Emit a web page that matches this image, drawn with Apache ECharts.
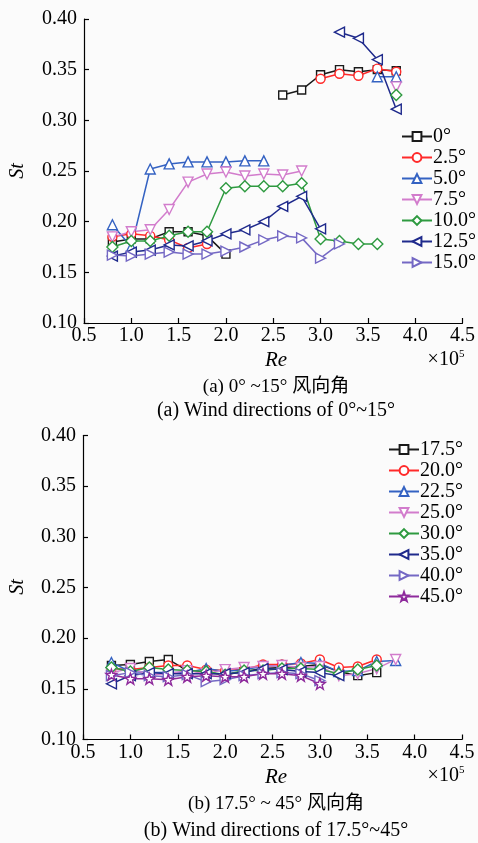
<!DOCTYPE html>
<html><head><meta charset="utf-8">
<script src="https://cdn.jsdelivr.net/npm/echarts@6/dist/echarts.min.js"></script>
<style>html,body{margin:0;padding:0;background:#fbfbfb}#c{width:478px;height:843px}</style>
</head><body><div id="c"></div>
<script>
// Reynolds number (x10^5)
const Re = [0.8,1.0,1.2,1.4,1.6,1.8,2.0,2.2,2.4,2.6,2.8,3.0,3.2,3.4,3.6,3.8];
const xTicks = [0.5,1.0,1.5,2.0,2.5,3.0,3.5,4.0,4.5];
const yTicks = [0.10,0.15,0.20,0.25,0.30,0.35,0.40];

// (a) 0°~15°
const namesA = ['0°','2.5°','5.0°','7.5°','10.0°','12.5°','15.0°'];
const st0    = [0.180,0.183,0.183,0.190,0.190,0.186,0.168,null,null,0.325,0.330,0.345,0.350,0.348,0.350,0.349];
const st2_5  = [0.185,0.188,0.186,0.182,0.174,0.178,null,null,null,null,null,0.341,0.346,0.344,0.351,0.348];
const st5    = [0.197,0.175,0.252,0.257,0.259,0.259,0.259,0.260,0.260,null,null,null,null,null,0.343,0.343];
const st7_5  = [0.185,0.190,0.192,0.212,0.239,0.247,0.249,0.245,0.247,0.246,0.250,null,null,null,null,0.333];
const st10   = [0.175,0.181,0.181,0.186,0.190,0.190,0.233,0.235,0.235,0.235,0.238,0.183,0.181,0.178,0.178,null];
const st10b  = [null,null,null,null,null,null,null,null,null,null,null,null,null,null,null,0.325];
const st12_5 = [0.166,0.170,0.172,0.177,0.176,0.181,0.188,0.192,0.200,0.215,0.225,0.193,null,null,null,null];
const st12_5b= [null,null,null,null,null,null,null,null,null,null,null,null,0.387,0.381,0.360,0.311];
const st15   = [0.167,0.166,0.168,0.170,0.168,0.168,0.171,0.175,0.182,0.186,0.184,0.164,0.178,null,null,null];

// (b) 17.5°~45°
const namesB = ['17.5°','20.0°','22.5°','25.0°','30.0°','35.0°','40.0°','45.0°'];
const st17_5 = [0.173,0.174,0.177,0.179,0.168,0.166,0.164,0.167,0.170,0.171,0.172,0.174,0.167,0.163,0.166,null];
const st20   = [0.170,0.169,0.171,0.173,0.173,0.169,0.168,0.169,0.174,0.174,0.175,0.179,0.171,0.172,0.179,null];
const st22_5 = [0.176,0.167,0.166,0.166,0.166,0.170,0.167,0.169,0.172,0.173,0.176,0.175,0.167,0.168,0.177,0.178];
const st25   = [0.166,0.170,0.164,0.165,0.168,0.165,0.169,0.171,0.172,0.173,0.171,0.172,0.163,0.165,0.170,0.179];
const st30   = [0.171,0.167,0.171,0.169,0.168,0.167,0.164,0.168,0.168,0.170,0.170,0.169,0.165,0.169,0.173,null];
const st35   = [0.155,0.163,0.166,0.165,0.165,0.165,0.165,0.166,0.170,0.169,0.167,0.166,0.163,null,null,null];
const st40   = [0.163,0.166,0.163,0.162,0.164,0.157,0.159,0.163,0.165,0.166,0.165,0.158,null,null,null,null];
const st45   = [0.164,0.160,0.160,0.159,0.162,0.163,0.162,0.162,0.165,0.165,0.163,0.155,null,null,null,null];

const SERIF = '"Liberation Serif","DejaVu Serif",serif';
const STAR = 'path://M0,-10L2.35,-3.24L9.51,-3.09L3.8,1.24L5.88,8.09L0,4L-5.88,8.09L-3.8,1.24L-9.51,-3.09L-2.35,-3.24Z';
const styles = {
  rect:  {symbol:'rect', size:8, rot:0},
  circ:  {symbol:'circle', size:9, rot:0},
  up:    {symbol:'triangle', size:10, rot:0},
  down:  {symbol:'triangle', size:10, rot:180},
  dia:   {symbol:'diamond', size:11, rot:0},
  left:  {symbol:'triangle', size:10, rot:90},
  right: {symbol:'triangle', size:10, rot:-90},
  star:  {symbol:STAR, size:11, rot:0}
};
function mk(name, arr, color, st, idx){
  const s = styles[st];
  return {
    type:'line', name:name, xAxisIndex:idx, yAxisIndex:idx,
    data: Re.map((x,i)=>[x, arr[i]==null?'-':arr[i]]),
    symbol:s.symbol, symbolSize:s.size, symbolRotate:s.rot, showAllSymbol:true,
    lineStyle:{color:color, width:1.5},
    itemStyle:{color:'#ffffff', borderColor:color, borderWidth:1.4},
    emphasis:{disabled:true}, animation:false, connectNulls:false
  };
}
const C = {k:'#1a1a1a', r:'#ff2a2a', b:'#3462c2', p:'#d27ccc', g:'#2e9a40', n:'#1f2a8c', l:'#7468c4', m:'#8e2a9c'};

const series = [
  mk('0°', st0, C.k, 'rect', 0),
  mk('2.5°', st2_5, C.r, 'circ', 0),
  mk('5.0°', st5, C.b, 'up', 0),
  mk('7.5°', st7_5, C.p, 'down', 0),
  mk('10.0°', st10, C.g, 'dia', 0),
  mk('10.0°', st10b, C.g, 'dia', 0),
  mk('12.5°', st12_5, C.n, 'left', 0),
  mk('12.5°', st12_5b, C.n, 'left', 0),
  mk('15.0°', st15, C.l, 'right', 0),
  mk('17.5°', st17_5, C.k, 'rect', 1),
  mk('20.0°', st20, C.r, 'circ', 1),
  mk('22.5°', st22_5, C.b, 'up', 1),
  mk('25.0°', st25, C.p, 'down', 1),
  mk('30.0°', st30, C.g, 'dia', 1),
  mk('35.0°', st35, C.n, 'left', 1),
  mk('40.0°', st40, C.l, 'right', 1),
  mk('45.0°', st45, C.m, 'star', 1)
];

function xAx(idx){
  return {type:'value', gridIndex:idx, min:xTicks[0], max:xTicks[xTicks.length-1], interval:0.5,
    axisLine:{show:true, onZero:false, lineStyle:{color:'#000', width:1.2}},
    axisTick:{show:true, inside:true, length:5, lineStyle:{color:'#000', width:1.2}},
    axisLabel:{color:'#000', fontFamily:SERIF, fontSize:20, margin:3, formatter:v=>v.toFixed(1)},
    splitLine:{show:false}};
}
function yAx(idx){
  return {type:'value', gridIndex:idx, min:yTicks[0], max:yTicks[yTicks.length-1], interval:0.05,
    axisLine:{show:true, onZero:false, lineStyle:{color:'#000', width:1.2}},
    axisTick:{show:true, inside:true, length:5, lineStyle:{color:'#000', width:1.2}},
    axisLabel:{color:'#000', fontFamily:SERIF, fontSize:20, margin:7, formatter:v=>v.toFixed(2)},
    splitLine:{show:false}};
}
function lg(names, left, top){
  return {data:names, left:left, top:top, orient:'vertical', itemGap:0, itemWidth:30, itemHeight:11,
    selectedMode:false,
    textStyle:{color:'#000', fontFamily:SERIF, fontSize:20, lineHeight:21, padding:[0,0,0,-4]}};
}
function txt(x,y,t,opts){
  return {type:'text', x:x, y:y, style:Object.assign({text:t, fill:'#000', font:'20px '+SERIF, align:'center', verticalAlign:'middle'}, opts||{})};
}
const sup = {s:{fontSize:11, verticalAlign:'top', padding:[0,0,11,0], fontFamily:SERIF}};
const graphic = [
  {type:'text', x:18, y:171, rotation:Math.PI/2, style:{text:'St', fill:'#000', font:'italic 20px '+SERIF, align:'center', verticalAlign:'middle'}},
  {type:'text', x:18, y:587, rotation:Math.PI/2, style:{text:'St', fill:'#000', font:'italic 20px '+SERIF, align:'center', verticalAlign:'middle'}},
  txt(276, 360, 'Re', {font:'italic 21px '+SERIF}),
  txt(276, 777, 'Re', {font:'italic 21px '+SERIF}),
  {type:'text', x:446, y:360, style:{text:'×10{s|5}', rich:sup, fill:'#000', font:'20px '+SERIF, align:'center', verticalAlign:'middle'}},
  {type:'text', x:446, y:776, style:{text:'×10{s|5}', rich:sup, fill:'#000', font:'20px '+SERIF, align:'center', verticalAlign:'middle'}},
  txt(276, 387, '(a) 0° ~15° 风向角', {font:'19px '+SERIF+',"Noto Sans CJK SC"'}),
  txt(276, 411, '(a) Wind directions of 0°~15°'),
  txt(276, 804, '(b) 17.5° ~ 45° 风向角', {font:'19px '+SERIF+',"Noto Sans CJK SC"'}),
  txt(276, 831, '(b) Wind directions of 17.5°~45°')
];

const chart = echarts.init(document.getElementById('c'), null, {renderer:'canvas'});
chart.setOption({
  backgroundColor:'#fbfbfb',
  animation:false,
  grid:[{left:84, top:19, width:379, height:304}, {left:83, top:435.5, width:379, height:304}],
  xAxis:[xAx(0), xAx(1)],
  yAxis:[yAx(0), yAx(1)],
  legend:[lg(namesA, 396, 121), lg(namesB, 383, 434)],
  graphic:graphic,
  series:series
});
</script></body></html>
